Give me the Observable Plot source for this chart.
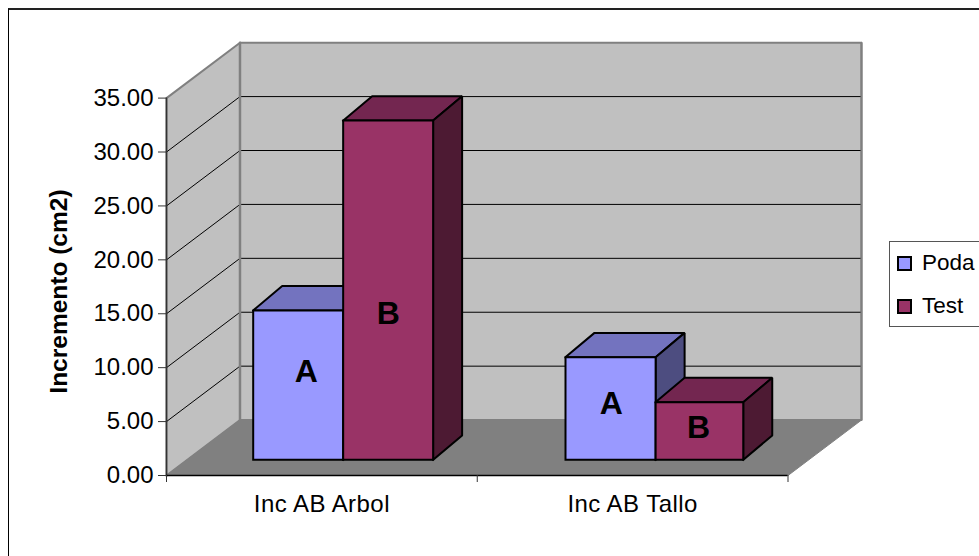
<!DOCTYPE html>
<html>
<head>
<meta charset="utf-8">
<script src="https://cdn.jsdelivr.net/npm/d3@7"></script>
<script src="https://cdn.jsdelivr.net/npm/@observablehq/plot@0.6"></script>
<style>
  html, body { margin: 0; padding: 0; background: #fff; overflow: hidden; }
  #chart { position: relative; width: 979px; height: 556px; overflow: hidden; font-family: "Liberation Sans", Arial, sans-serif; }
  #frame { position: absolute; left: 8px; top: 8px; width: 990px; height: 600px; border-left: 1px solid #000; border-top: 2px solid #222; box-sizing: content-box; pointer-events: none; }
  #legend { position: absolute; left: 889px; top: 241px; width: 120px; height: 84px; border: 1px solid #555; background: #fff; }
  .item { position: absolute; left: 7px; display: flex; align-items: center; font-size: 22.5px; color: #000; line-height: 1; }
  .swatch { width: 11px; height: 11px; border: 2px solid #000; margin-right: 10px; }
  svg { position: absolute; left: 0; top: 0; }
  svg .cat text, svg text.cat { letter-spacing: 0.45px; }
</style>
</head>
<body>
<div id="chart"><div id="frame"></div></div>
<script>
const categories = ["Inc AB Arbol", "Inc AB Tallo"];
const seriesNames = ["Poda", "Test"];
const poda = [13.85, 9.51];
const test = [31.46, 5.34];
const letters = [["A", "B"], ["A", "B"]];
const yTicks = [0, 5, 10, 15, 20, 25, 30, 35];
const faceColors = {
  Poda: { front: "#9999FF", top: "#7373BF", side: "#4D4D80" },
  Test: { front: "#993366", top: "#732650", side: "#4D1A33" }
};

// Oblique projection of the 3D box: depth d in [0,1] shifts both scales.
const SKEW_X = 0.2365, SKEW_Y = 5.14;
const D0 = 0.284, D1 = 0.723, BAR_SHIFT_X = 0.0933;
const barEdges = [[0.279, 0.5685, 0.858], [1.284, 1.574, 1.856]];
const labelX = [[0.4496, 0.714], [1.431, 1.712]];
const labelV = [[8.14, 13.52], [5.18, 2.95]];

const pt = (u, v, d = 0) => ({ x: u + d * SKEW_X, y: v + d * SKEW_Y });
const poly = (points, fill, stroke, strokeWidth) =>
  Plot.line([...points, points[0]], { x: "x", y: "y", fill, stroke, strokeWidth, strokeLinejoin: "miter", strokeLinecap: "square" });

const marks = [];
// walls and floor
marks.push(poly([pt(0, 0, 1), pt(2, 0, 1), pt(2, 35, 1), pt(0, 35, 1)], "#C0C0C0", "#808080", 2));
marks.push(poly([pt(0, 0, 0), pt(0, 0, 1), pt(0, 35, 1), pt(0, 35, 0)], "#C0C0C0", "#808080", 2));
marks.push(poly([pt(0, 0, 0), pt(2, 0, 0), pt(2, 0, 1), pt(0, 0, 1)], "#808080", "#808080", 1));
// gridlines on left wall and back wall
yTicks.filter(v => v > 0 && v < 35).forEach(v => {
  marks.push(Plot.line([pt(0, v, 0), pt(0, v, 1), pt(2, v, 1)], { x: "x", y: "y", stroke: "#000", strokeWidth: 1 }));
});
// re-stroke wall edges over the gridlines
marks.push(Plot.line([pt(0, 0, 1), pt(0, 35, 1)], { x: "x", y: "y", stroke: "#808080", strokeWidth: 2.5 }));
marks.push(Plot.line([pt(2, 0, 1), pt(2, 35, 1)], { x: "x", y: "y", stroke: "#808080", strokeWidth: 2 }));

// bars
categories.forEach((c, g) => {
  [poda[g], test[g]].forEach((value, s) => {
    const col = faceColors[seriesNames[s]];
    const l = barEdges[g][s], r = barEdges[g][s + 1];
    const f = (u, v) => ({ x: u, y: v + D0 * SKEW_Y });
    const b = (u, v) => ({ x: u + BAR_SHIFT_X, y: v + D1 * SKEW_Y });
    marks.push(poly([f(l, value), f(r, value), b(r, value), b(l, value)], col.top, "#000", 2));
    marks.push(poly([f(r, 0), b(r, 0), b(r, value), f(r, value)], col.side, "#000", 2));
    marks.push(poly([f(l, 0), f(r, 0), f(r, value), f(l, value)], col.front, "#000", 2));
    marks.push(Plot.text([letters[g][s]], {
      x: () => labelX[g][s], y: () => labelV[g][s] + D0 * SKEW_Y, text: d => d,
      fontSize: 32, fontWeight: "bold", fill: "#000"
    }));
  });
});

// axes
marks.push(Plot.ruleX([0], { y1: 0, y2: 35, stroke: "#333", strokeWidth: 1.5 }));
marks.push(Plot.ruleY([0], { x1: 0, x2: 2, stroke: "#000", strokeWidth: 1.5 }));
marks.push(Plot.axisY({ ticks: yTicks, tickFormat: d3.format(".2f"), tickSize: 8, tickPadding: 5, fontSize: 24, label: null, stroke: "#333", fill: "#000" }));
marks.push(Plot.axisX({ ticks: [0, 1, 2], tickFormat: () => "", tickSize: 7, label: null, stroke: "#333" }));
marks.push(Plot.text(categories, { x: (d, i) => i + 0.5, y: () => -2.66, text: d => d, fontSize: 24, fill: "#000", className: "cat" }));
marks.push(Plot.text(["Incremento (cm2)"], { x: () => -0.346, y: () => 17.06, text: d => d, rotate: -90, fontSize: 24.5, fontWeight: "bold", fill: "#000" }));

const svg = Plot.plot({
  width: 979, height: 556,
  marginLeft: 166, marginRight: 191.5, marginTop: 97.6, marginBottom: 81,
  x: { type: "linear", domain: [0, 2] },
  y: { type: "linear", domain: [0, 35] },
  style: { fontFamily: '"Liberation Sans", Arial, sans-serif', background: "transparent", overflow: "visible" },
  marks
});
const chart = document.getElementById("chart");
chart.prepend(svg);

// legend
const legend = document.createElement("div");
legend.id = "legend";
seriesNames.forEach((n, i) => {
  const it = document.createElement("div");
  it.className = "item";
  it.style.top = (i === 0 ? 10 : 53) + "px";
  const sw = document.createElement("span");
  sw.className = "swatch";
  sw.style.background = faceColors[n].front;
  it.appendChild(sw);
  it.appendChild(document.createTextNode(n));
  legend.appendChild(it);
});
chart.appendChild(legend);
</script>
</body>
</html>
